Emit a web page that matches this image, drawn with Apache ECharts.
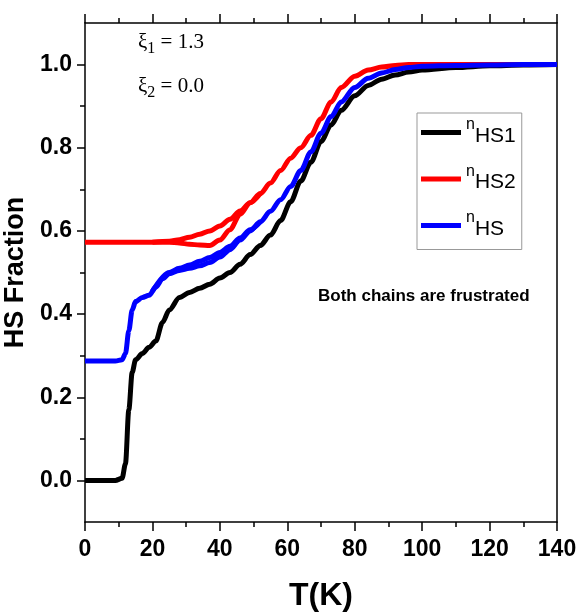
<!DOCTYPE html>
<html>
<head>
<meta charset="utf-8">
<script src="https://cdn.jsdelivr.net/npm/echarts@6/dist/echarts.min.js"></script>
<style>
  html, body { margin: 0; padding: 0; background: #fff; }
  #chart { width: 581px; height: 615px; }
</style>
</head>
<body>
<div id="chart"></div>
<script>
// temperature grid (K), heating branch
var temps = [0, 5, 9, 11, 12, 13, 14, 15, 17, 19, 21, 23, 25, 28, 31, 34, 37, 40, 43, 46, 49, 52, 55, 58, 61, 64, 67, 70, 73, 76, 80, 84, 88, 92, 96, 100, 110, 120, 130, 140];
var nHS1 = [0, 0, 0, 0.005, 0.04, 0.17, 0.26, 0.29, 0.305, 0.32, 0.335, 0.38, 0.41, 0.44, 0.452, 0.462, 0.472, 0.487, 0.5, 0.52, 0.543, 0.565, 0.59, 0.625, 0.67, 0.72, 0.765, 0.815, 0.855, 0.89, 0.925, 0.95, 0.965, 0.975, 0.982, 0.987, 0.993, 0.997, 0.999, 1.0];
var nHS2 = [0.573, 0.573, 0.573, 0.573, 0.573, 0.573, 0.573, 0.573, 0.573, 0.573, 0.573, 0.573, 0.573, 0.571, 0.568, 0.566, 0.565, 0.578, 0.603, 0.64, 0.668, 0.69, 0.715, 0.745, 0.775, 0.8, 0.83, 0.87, 0.91, 0.945, 0.972, 0.987, 0.994, 0.998, 1, 1, 1, 1, 1, 1];
var nHS = [0.287, 0.287, 0.287, 0.29, 0.305, 0.36, 0.41, 0.43, 0.44, 0.445, 0.465, 0.485, 0.497, 0.505, 0.51, 0.516, 0.524, 0.537, 0.555, 0.578, 0.6, 0.622, 0.647, 0.675, 0.707, 0.745, 0.79, 0.835, 0.875, 0.91, 0.945, 0.967, 0.98, 0.988, 0.993, 0.996, 0.998, 0.999, 1, 1];

// cooling branch (hysteresis loop)
var coolTemps = [20, 25, 28, 31, 34, 37, 40, 43, 46, 49, 52];
var nHS2Cool = [0.573, 0.575, 0.579, 0.585, 0.592, 0.6, 0.612, 0.628, 0.648, 0.668, 0.69];
var nHSCool = [0.455, 0.5, 0.51, 0.518, 0.527, 0.536, 0.548, 0.563, 0.583, 0.603, 0.622];

var yMajor = [0, 0.2, 0.4, 0.6, 0.8, 1.0];
var yMinor = [0.1, 0.3, 0.5, 0.7, 0.9];

function pairs(xs, ys) {
    return xs.map(function (x, i) { return [x, ys[i]]; });
}

var sans = "'Liberation Sans', Arial, sans-serif";
var serif = "'Liberation Serif', 'Times New Roman', serif";

function lineSeries(name, color, xs, ys) {
    return {
        name: name,
        type: 'line',
        data: pairs(xs, ys),
        symbol: 'none',
        smooth: 0.3,
        smoothMonotone: 'x',
        lineStyle: { color: color, width: 5 },
        itemStyle: { color: color },
        z: 3
    };
}

var black = { color: '#000', width: 1.5 };

// extra x axis that only carries the short ticks every 10 K
function minorX(pos) {
    return {
        type: 'value',
        position: pos,
        min: 0,
        max: 140,
        interval: 10,
        axisLine: { show: false, onZero: false },
        axisTick: { inside: false, length: 5, lineStyle: black },
        axisLabel: { show: false },
        splitLine: { show: false }
    };
}

var myChart = echarts.init(document.getElementById('chart'));
var option = {
    backgroundColor: '#fff',
    animation: false,
    grid: { left: 85, right: 24, top: 23, bottom: 93, outerBoundsMode: 'none' },
    legend: {
        data: [
            { name: 'nHS1', icon: 'rect', itemStyle: { color: '#000000' } },
            { name: 'nHS2', icon: 'rect', itemStyle: { color: '#ff0000' } },
            { name: 'nHS', icon: 'rect', itemStyle: { color: '#0000ff' } }
        ],
        orient: 'vertical',
        left: 417,
        top: 113,
        padding: [4, 6, 10, 4],
        itemGap: 17,
        itemWidth: 40,
        itemHeight: 5,
        borderColor: '#999',
        borderWidth: 1,
        formatter: function (name) {
            return '{n|n}{s|' + name.slice(1) + '}';
        },
        textStyle: {
            rich: {
                n: { fontFamily: sans, fontSize: 16, padding: [0, 0, 15, 0], color: '#000' },
                s: { fontFamily: sans, fontSize: 21, padding: [7, 0, 0, 0], color: '#000' }
            }
        }
    },
    xAxis: [{
        type: 'value',
        position: 'bottom',
        min: 0,
        max: 140,
        interval: 20,
        name: 'T(K)',
        nameLocation: 'middle',
        nameGap: 58,
        nameTextStyle: { fontFamily: sans, fontWeight: 'bold', fontSize: 32, color: '#000' },
        axisLine: { onZero: false, lineStyle: black },
        axisTick: { inside: false, length: 9, lineStyle: black },
        axisLabel: { fontFamily: sans, fontWeight: 'bold', fontSize: 23, color: '#000', margin: 16 },
        splitLine: { show: false }
    }, {
        type: 'value',
        position: 'top',
        min: 0,
        max: 140,
        interval: 20,
        axisLine: { onZero: false, lineStyle: black },
        axisTick: { inside: false, length: 9, lineStyle: black },
        axisLabel: { show: false },
        splitLine: { show: false }
    }, minorX('bottom'), minorX('top')],
    yAxis: [{
        type: 'value',
        min: -0.1,
        max: 1.1,
        name: 'HS Fraction',
        nameLocation: 'middle',
        nameGap: 46,
        nameTextStyle: { fontFamily: sans, fontWeight: 'bold', fontSize: 27, color: '#000' },
        axisLine: { onZero: false, lineStyle: black },
        axisTick: { inside: false, length: 8, customValues: yMajor, lineStyle: black },
        axisLabel: {
            customValues: yMajor,
            fontFamily: sans, fontWeight: 'bold', fontSize: 23, color: '#000', margin: 13,
            formatter: function (v) { return v.toFixed(1); }
        },
        splitLine: { show: false }
    }, {
        type: 'value',
        position: 'left',
        min: -0.1,
        max: 1.1,
        axisLine: { show: false, onZero: false },
        axisTick: { inside: false, length: 5, customValues: yMinor, lineStyle: black },
        axisLabel: { show: false },
        splitLine: { show: false }
    }, {
        type: 'value',
        position: 'right',
        min: -0.1,
        max: 1.1,
        axisLine: { show: true, onZero: false, lineStyle: black },
        axisTick: { show: false },
        axisLabel: { show: false },
        splitLine: { show: false }
    }],
    graphic: [{
        type: 'text',
        left: 138,
        top: 32,
        style: {
            text: '{a|ξ}{b|1}{a| = 1.3}',
            rich: {
                a: { fontFamily: serif, fontSize: 21, fill: '#000' },
                b: { fontFamily: serif, fontSize: 16, padding: [12, 0, 0, 0], fill: '#000' }
            }
        }
    }, {
        type: 'text',
        left: 138,
        top: 76,
        style: {
            text: '{a|ξ}{b|2}{a| = 0.0}',
            rich: {
                a: { fontFamily: serif, fontSize: 21, fill: '#000' },
                b: { fontFamily: serif, fontSize: 16, padding: [12, 0, 0, 0], fill: '#000' }
            }
        }
    }, {
        type: 'text',
        left: 318,
        top: 288,
        style: {
            text: 'Both chains are frustrated',
            font: "bold 17px 'Liberation Sans', sans-serif",
            fill: '#000'
        }
    }],
    series: [
        lineSeries('nHS1', '#000000', temps, nHS1),
        lineSeries('nHS2', '#ff0000', temps, nHS2),
        lineSeries('nHS2', '#ff0000', coolTemps, nHS2Cool),
        lineSeries('nHS', '#0000ff', temps, nHS),
        lineSeries('nHS', '#0000ff', coolTemps, nHSCool)
    ]
};
myChart.setOption(option);
</script>
</body>
</html>
